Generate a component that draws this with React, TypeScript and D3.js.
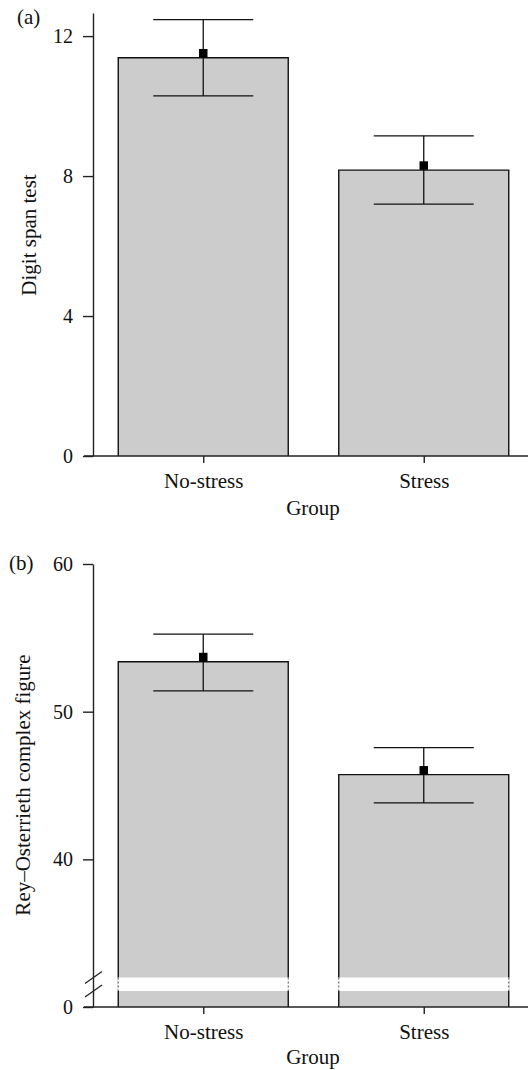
import React, { useEffect, useRef } from 'react';
import * as d3 from 'd3';

const width = 529;
const height = 1070;
const font = '"Liberation Serif", "Times New Roman", serif';

const groups = ['No-stress', 'Stress'];

// panel (a) digit span test
const digitBar = [11.38, 8.17];
const digitMean = [11.51, 8.3];
const digitLow = [10.29, 7.2];
const digitHigh = [12.47, 9.15];
const digitTicks = [0, 4, 8, 12];

// panel (b) Rey-Osterrieth complex figure
const reyBar = [53.38, 45.74];
const reyMean = [53.7, 46.03];
const reyLow = [51.41, 43.82];
const reyHigh = [55.25, 47.57];
const reyTicks = [0, 40, 50, 60];
const reyBreak = 32;

const axisX = 93;
const barW = 170;
const capW = 100;
const markS = 8.5;
const bandH = 13.5;

const x = d3.scalePoint<string>().domain(groups).range([axisX, 534]).padding(0.5);
const yA = d3.scaleLinear().domain([0, 12.66]).range([456, 13]);
const yB = d3.scaleLinear().domain([0, reyBreak, 60]).range([1007, 977.5, 564]);

function Bars({ y, bar, mean, low, high, broken }: any) {
  const base = y(0);
  return (
    <g>
      {groups.map((g, i) => {
        const cx = x(g) as number;
        const l = cx - barW / 2;
        const r = cx + barW / 2;
        const top = y(bar[i]);
        return (
          <g key={g}>
            <rect x={l} y={top} width={barW} height={base - top} fill="#cccccc" />
            <path d={`M${l},${base}V${top}H${r}V${base}`} fill="none" stroke="#111" strokeWidth={1.4} />
            {broken && (
              <g>
                <rect x={l - 1} y={y(reyBreak)} width={barW + 2} height={bandH} fill="#fff" />
                <line x1={l} x2={l} y1={y(reyBreak)} y2={y(reyBreak) + bandH} stroke="#555" strokeDasharray="2,2" />
                <line x1={r} x2={r} y1={y(reyBreak)} y2={y(reyBreak) + bandH} stroke="#555" strokeDasharray="2,2" />
              </g>
            )}
            <line x1={cx} x2={cx} y1={y(high[i])} y2={y(low[i])} stroke="#111" strokeWidth={1.3} />
            <line x1={cx - capW / 2} x2={cx + capW / 2} y1={y(high[i])} y2={y(high[i])} stroke="#111" strokeWidth={1.3} />
            <line x1={cx - capW / 2} x2={cx + capW / 2} y1={y(low[i])} y2={y(low[i])} stroke="#111" strokeWidth={1.3} />
            <rect x={cx - markS / 2} y={y(mean[i]) - markS / 2} width={markS} height={markS} fill="#000" />
          </g>
        );
      })}
    </g>
  );
}

export default function App() {
  const yAxA = useRef<SVGGElement>(null);
  const yAxB = useRef<SVGGElement>(null);
  const xAxA = useRef<SVGGElement>(null);
  const xAxB = useRef<SVGGElement>(null);

  useEffect(() => {
    const styleAxis = (sel: any, size: number) => {
      sel.selectAll('path, line').attr('stroke', '#222').attr('stroke-width', 1.4);
      sel.selectAll('text').attr('font-family', font).attr('font-size', size).attr('fill', '#111');
    };
    const left = (s: any, ticks: number[]) =>
      d3.axisLeft(s).tickValues(ticks).tickSize(10).tickSizeOuter(0).tickPadding(10).tickFormat(d3.format('d'));
    d3.select(yAxA.current).call(left(yA, digitTicks) as any).call(styleAxis, 20);
    d3.select(yAxB.current).call(left(yB, reyTicks) as any).call(styleAxis, 20);

    const bottom = d3.axisBottom(x).tickSize(7).tickPadding(10);
    [xAxA.current, xAxB.current].forEach(el => {
      const s = d3.select(el).call(bottom as any).call(styleAxis, 21);
      s.select('.domain').remove();
      s.selectAll('text').attr('dy', '0.71em');
    });
  }, []);

  const baseA = yA(0);
  const baseB = yB(0);
  const bTop = yB(reyBreak);

  return (
    <svg width={width} height={height} style={{ position: 'absolute', left: 0, top: 0, background: '#fff' }}>
      <Bars y={yA} bar={digitBar} mean={digitMean} low={digitLow} high={digitHigh} />
      <Bars y={yB} bar={reyBar} mean={reyMean} low={reyLow} high={reyHigh} broken />

      <line x1={84} x2={528} y1={baseA} y2={baseA} stroke="#222" strokeWidth={1.4} />
      <line x1={84} x2={528} y1={baseB} y2={baseB} stroke="#222" strokeWidth={1.4} />
      <g ref={yAxA} transform={`translate(${axisX},0)`} />
      <g ref={yAxB} transform={`translate(${axisX},0)`} />
      <g ref={xAxA} transform={`translate(0,${baseA})`} />
      <g ref={xAxB} transform={`translate(0,${baseB})`} />

      {/* axis break marks */}
      <line x1={85} x2={102} y1={bTop + 6} y2={bTop - 6} stroke="#222" strokeWidth={1.3} />
      <line x1={85} x2={102} y1={bTop + bandH + 6} y2={bTop + bandH - 6} stroke="#222" strokeWidth={1.3} />

      <g fontFamily={font} fontSize={21} fill="#111">
        <text x={17} y={24}>(a)</text>
        <text x={9} y={570}>(b)</text>
        <text textAnchor="middle" transform="translate(36,235) rotate(-90)">Digit span test</text>
        <text textAnchor="middle" transform="translate(30,785) rotate(-90)">Rey–Osterrieth complex figure</text>
        <text x={313} y={baseA + 59} textAnchor="middle">Group</text>
        <text x={313} y={baseB + 57} textAnchor="middle">Group</text>
      </g>
    </svg>
  );
}
